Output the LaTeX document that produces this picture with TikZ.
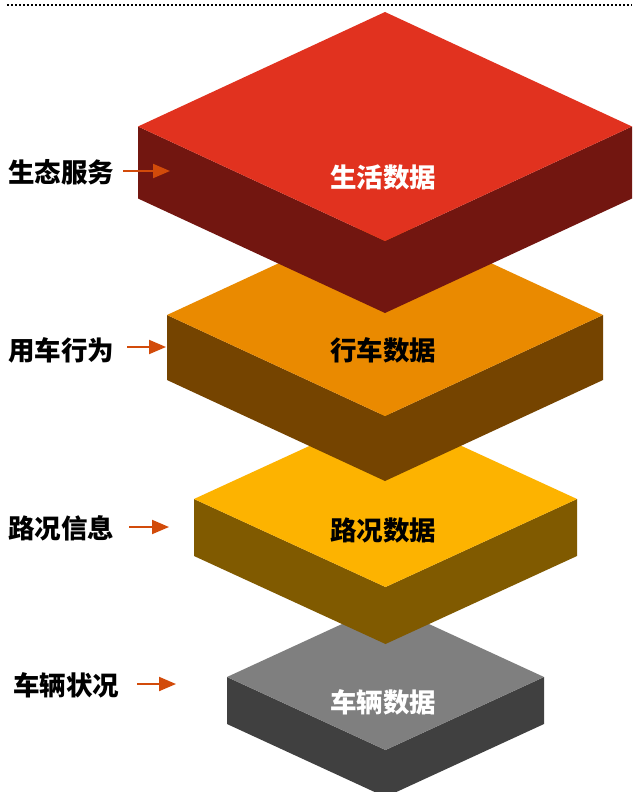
\documentclass[tikz,border=0pt]{standalone}
\usepackage{fontspec}
\newfontfamily\cjk{Noto Sans CJK SC}
\usetikzlibrary{arrows.meta}
\definecolor{redtop}{HTML}{E1321F}
\definecolor{redside}{HTML}{721610}
\definecolor{orgtop}{HTML}{EA8A00}
\definecolor{orgside}{HTML}{754400}
\definecolor{yeltop}{HTML}{FDB300}
\definecolor{yelside}{HTML}{805A00}
\definecolor{graytop}{HTML}{7F7F7F}
\definecolor{grayside}{HTML}{404040}
\definecolor{arrowc}{HTML}{D24B0A}
\newcommand\drawlayer[6]{% cx, midy, hw, hh, depth, name
  \fill[#6side] (#1-#3,#2) -- (#1,#2+#4) -- (#1+#3,#2) -- (#1+#3,#2+#5) -- (#1,#2+#4+#5) -- (#1-#3,#2+#5) -- cycle;
  \fill[#6top] (#1-#3,#2) -- (#1,#2-#4) -- (#1+#3,#2) -- (#1,#2+#4) -- cycle;
}
\begin{document}
\begin{tikzpicture}[x=1pt,y=-1pt,
  txt/.style={font=\cjk\bfseries\fontsize{26.5}{26.5}\selectfont, inner sep=0pt},
  side/.style={txt, anchor=west, text=black},
  arr/.style={arrowc, line width=2pt, -{Triangle[length=17pt,width=14pt]}}]
\useasboundingbox (0,0) rectangle (632,792);
\fill[white] (0,0) rectangle (632,792);
\draw[line width=2pt, dash pattern=on 2pt off 2pt] (7,5.5) -- (632,5.5);
% layers bottom to top
\drawlayer{385.5}{677}{158.5}{73}{47}{gray}
\drawlayer{385.5}{499}{191.5}{88}{57}{yel}
\drawlayer{385}{315}{218}{101}{65}{org}
\drawlayer{385}{126.5}{247}{114.5}{72}{red}
% center labels
\node[txt, text=white] (d1) at (383,177) {生活数据};
\node[txt, text=black] (d2) at (383,350) {行车数据};
\node[txt, text=black] (d3) at (383,530) {路况数据};
\node[txt, text=white] (d4) at (383,702) {车辆数据};
% side labels
\node[side] (l1) at (8,172) {生态服务};
\node[side] (l2) at (8,350) {用车行为};
\node[side] (l3) at (8,528) {路况信息};
\node[side] (l4) at (13,685) {车辆状况};
% arrow coordinates
\coordinate (s1) at (123,171); \coordinate (e1) at (170,171);
\coordinate (s2) at (127,347); \coordinate (e2) at (166,347);
\coordinate (s3) at (129,527); \coordinate (e3) at (169,527);
\coordinate (s4) at (137,684); \coordinate (e4) at (176,684);
\draw[arr] (s1) -- (e1);
\draw[arr] (s2) -- (e2);
\draw[arr] (s3) -- (e3);
\draw[arr] (s4) -- (e4);
\end{tikzpicture}
\end{document}
